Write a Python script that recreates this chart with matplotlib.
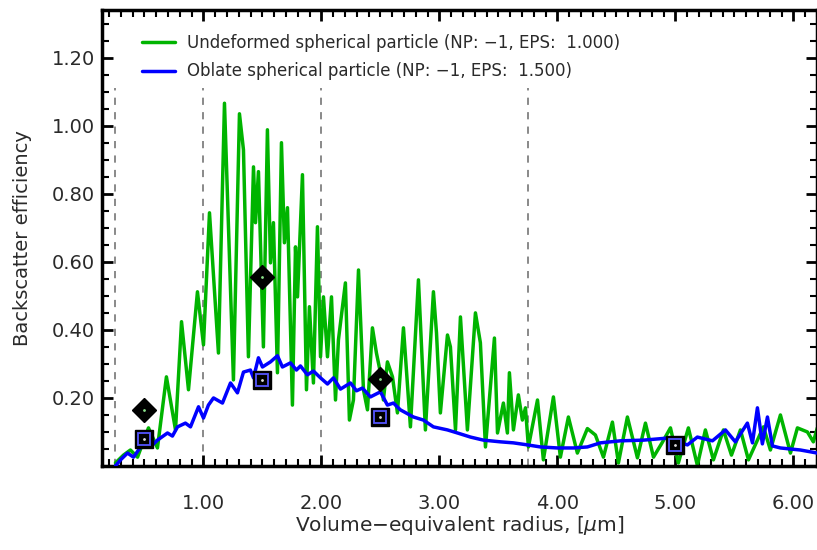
import numpy as np
import matplotlib
matplotlib.use("Agg")
from matplotlib import pyplot as plt
from matplotlib.ticker import MultipleLocator, FormatStrFormatter

# undeformed sphere (EPS 1.000)
green_x = [0.254, 0.322, 0.381, 0.441, 0.534, 0.610, 0.686, 0.763, 0.814, 0.873,
           0.949, 1.000, 1.051, 1.127, 1.178, 1.254, 1.305, 1.339, 1.381, 1.424,
           1.441, 1.466, 1.508, 1.542, 1.568, 1.593, 1.627, 1.661, 1.686, 1.712,
           1.754, 1.780, 1.797, 1.839, 1.873, 1.898, 1.932, 1.966, 1.992, 2.017,
           2.051, 2.085, 2.119, 2.144, 2.203, 2.237, 2.271, 2.314, 2.356, 2.390,
           2.432, 2.466, 2.500, 2.525, 2.559, 2.602, 2.644, 2.695, 2.754, 2.822,
           2.881, 2.949, 2.975, 3.008, 3.068, 3.093, 3.136, 3.178, 3.237, 3.305,
           3.347, 3.390, 3.466, 3.492, 3.542, 3.576, 3.593, 3.627, 3.669, 3.703,
           3.729, 3.754, 3.831, 3.881, 3.966, 4.025, 4.093, 4.169, 4.254, 4.322,
           4.390, 4.466, 4.517, 4.593, 4.678, 4.746, 4.814, 4.890, 4.958, 5.025,
           5.110, 5.186, 5.254, 5.322, 5.407, 5.475, 5.551, 5.619, 5.746, 5.805,
           5.890, 5.975, 6.034, 6.119, 6.169, 6.203]
green_y = [0.009, 0.032, 0.047, 0.026, 0.112, 0.053, 0.262, 0.106, 0.424, 0.224,
           0.512, 0.356, 0.744, 0.332, 1.066, 0.253, 1.035, 0.929, 0.321, 0.879,
           0.715, 0.865, 0.350, 0.988, 0.597, 0.715, 0.274, 0.950, 0.656, 0.759,
           0.179, 0.644, 0.497, 0.856, 0.224, 0.468, 0.244, 0.703, 0.321, 0.497,
           0.321, 0.497, 0.194, 0.371, 0.538, 0.135, 0.194, 0.576, 0.224, 0.165,
           0.406, 0.332, 0.274, 0.194, 0.306, 0.262, 0.156, 0.406, 0.115, 0.547,
           0.106, 0.512, 0.391, 0.156, 0.385, 0.350, 0.106, 0.438, 0.106, 0.450,
           0.362, 0.056, 0.376, 0.097, 0.185, 0.097, 0.274, 0.106, 0.209, 0.135,
           0.171, 0.056, 0.194, 0.018, 0.203, 0.026, 0.144, 0.038, 0.110, 0.091,
           0.026, 0.129, 0.009, 0.144, 0.024, 0.126, 0.026, 0.070, 0.112, 0.009,
           0.112, 0.002, 0.106, 0.018, 0.106, 0.032, 0.106, 0.018, 0.115, 0.047,
           0.150, 0.038, 0.112, 0.100, 0.071, 0.112]

# oblate spheroid (EPS 1.500)
blue_x = [0.254, 0.297, 0.356, 0.407, 0.492, 0.551, 0.610, 0.695, 0.737, 0.780,
          0.847, 0.890, 0.958, 1.000, 1.042, 1.085, 1.161, 1.229, 1.288, 1.339,
          1.398, 1.424, 1.466, 1.500, 1.568, 1.627, 1.669, 1.737, 1.788, 1.822,
          1.881, 1.932, 1.992, 2.051, 2.102, 2.161, 2.246, 2.297, 2.347, 2.415,
          2.500, 2.559, 2.610, 2.669, 2.780, 2.864, 2.949, 3.068, 3.153, 3.263,
          3.373, 3.517, 3.627, 3.746, 3.856, 4.000, 4.136, 4.254, 4.364, 4.534,
          4.729, 4.932, 5.102, 5.186, 5.314, 5.424, 5.508, 5.610, 5.653, 5.695,
          5.737, 5.780, 5.822, 5.890, 6.059, 6.203]
blue_y = [0.000, 0.018, 0.038, 0.026, 0.068, 0.056, 0.076, 0.097, 0.088, 0.115,
          0.126, 0.115, 0.174, 0.141, 0.179, 0.200, 0.185, 0.244, 0.215, 0.276,
          0.282, 0.259, 0.318, 0.291, 0.306, 0.324, 0.291, 0.303, 0.282, 0.294,
          0.268, 0.279, 0.259, 0.241, 0.259, 0.226, 0.244, 0.221, 0.229, 0.203,
          0.218, 0.179, 0.185, 0.165, 0.144, 0.135, 0.115, 0.106, 0.097, 0.085,
          0.076, 0.071, 0.068, 0.062, 0.056, 0.053, 0.053, 0.056, 0.068, 0.074,
          0.076, 0.082, 0.062, 0.085, 0.074, 0.106, 0.071, 0.126, 0.068, 0.171,
          0.065, 0.144, 0.059, 0.053, 0.047, 0.038]

# reference points
ref_x_sphere = [0.5, 1.5, 2.5]
ref_y_sphere = [0.165, 0.556, 0.256]
ref_x_oblate = [0.5, 1.5, 2.5, 5.0]
ref_y_oblate = [0.079, 0.253, 0.144, 0.062]

size_bins = [0.25, 1.0, 2.0, 3.75]

label_sphere = "Undeformed spherical particle (NP: \u22121, EPS:  1.000)"
label_oblate = "Oblate spherical particle (NP: \u22121, EPS:  1.500)"

GREEN = "#00b400"
BLUE = "#0000ff"
TXT = "#2a2a2a"

fig = plt.figure(figsize=(8.17, 5.5), dpi=100)
ax = fig.add_axes([102 / 817, 84 / 550, 715 / 817, 456 / 550])

for xb in size_bins:
    ax.plot([xb, xb], [0, 1.11], color="#808080", lw=1.3, ls=(0, (4, 4)), zorder=1)

ax.plot(green_x, green_y, color=GREEN, lw=2.5, label=label_sphere, zorder=2,
        solid_joinstyle="round", solid_capstyle="round")
ax.plot(blue_x, blue_y, color=BLUE, lw=2.5, label=label_oblate, zorder=3,
        solid_joinstyle="round", solid_capstyle="round")

# diamonds for the sphere, boxed squares for the spheroid
ax.plot(ref_x_sphere, ref_y_sphere, ls="none", marker="D", ms=12, mfc="black",
        mec="black", zorder=5)
ax.plot(ref_x_sphere, ref_y_sphere, ls="none", marker=".", ms=2, color="#88dd88", zorder=6)
ax.plot(ref_x_oblate, ref_y_oblate, ls="none", marker="s", ms=13, mfc="black",
        mec="black", zorder=5)
ax.plot(ref_x_oblate, ref_y_oblate, ls="none", marker="s", ms=8, mfc="none",
        mec="#5555ff", mew=1.3, zorder=6)
ax.plot(ref_x_oblate, ref_y_oblate, ls="none", marker=".", ms=2, color="#dddddd", zorder=7)

ax.set_xlim(0.14, 6.2)
ax.set_ylim(0.0, 1.34)
ax.xaxis.set_major_locator(MultipleLocator(1.0))
ax.xaxis.set_minor_locator(MultipleLocator(0.1))
ax.set_yticks([0.2, 0.4, 0.6, 0.8, 1.0, 1.2])
ax.yaxis.set_minor_locator(MultipleLocator(0.05))
ax.xaxis.set_major_formatter(FormatStrFormatter("%.2f"))
ax.yaxis.set_major_formatter(FormatStrFormatter("%.2f"))

ax.tick_params(which="both", direction="in", top=True, right=True, colors="black",
               labelcolor=TXT, labelsize=14)
ax.tick_params(which="major", length=8, width=2)
ax.tick_params(which="minor", length=5, width=1.5)
ax.tick_params(axis="x", which="major", pad=20)
ax.tick_params(axis="y", which="major", pad=5)
for sp in ax.spines.values():
    sp.set_linewidth(2.5)

ax.set_xlabel("Volume\u2212equivalent radius, [$\\mu$m]", fontsize=14.5, color=TXT,
              labelpad=1)
ax.set_ylabel("Backscatter efficiency", fontsize=14, color=TXT, labelpad=14)

ax.legend(loc="upper left", bbox_to_anchor=(0.035, 0.98), frameon=False, fontsize=12,
          handlelength=2.0, handletextpad=0.7, labelspacing=0.62, labelcolor=TXT)

fig.savefig("out.png", dpi=100)
